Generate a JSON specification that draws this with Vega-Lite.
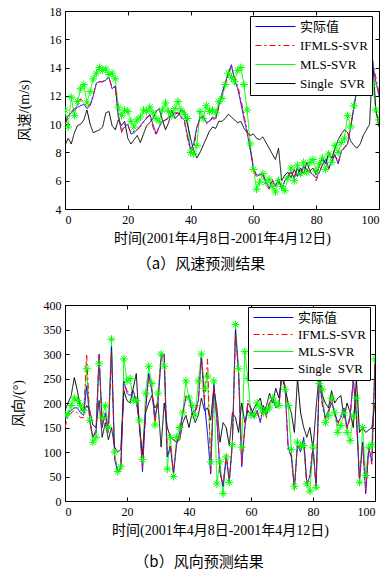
{
  "$schema": "https://vega.github.io/schema/vega-lite/v6.json",
  "padding": {"left": 10, "top": 4, "right": 0, "bottom": 0},
  "background": "white",
  "columns": 1,
  "align": "none",
  "spacing": 25,
  "datasets": {
    "spd": [
      {"x":0,"a":10.0,"f":10.0,"m":11.0,"s":8.5},{"x":1,"a":10.6,"f":10.5,"m":9.8,"s":9.0},{"x":2,"a":10.8,"f":10.9,"m":11.9,"s":8.6},{"x":3,"a":11.0,"f":11.1,"m":10.6,"s":9.4},{"x":4,"a":11.2,"f":11.3,"m":11.6,"s":9.9},
      {"x":5,"a":11.3,"f":11.8,"m":12.5,"s":10.0},{"x":6,"a":11.4,"f":11.5,"m":12.8,"s":10.3},{"x":7,"a":11.1,"f":11.2,"m":11.5,"s":11.0},{"x":8,"a":11.3,"f":11.4,"m":12.3,"s":10.0},{"x":9,"a":12.0,"f":12.1,"m":13.2,"s":9.4},
      {"x":10,"a":12.9,"f":12.9,"m":13.6,"s":9.5},{"x":11,"a":13.0,"f":13.0,"m":14.0,"s":9.6},{"x":12,"a":13.0,"f":13.0,"m":13.8,"s":9.8},{"x":13,"a":13.1,"f":13.2,"m":13.9,"s":10.8},{"x":14,"a":13.3,"f":13.3,"m":13.5,"s":10.9},
      {"x":15,"a":12.5,"f":12.6,"m":13.6,"s":9.9},{"x":16,"a":12.7,"f":12.6,"m":13.2,"s":9.6},{"x":17,"a":10.5,"f":10.8,"m":11.2,"s":10.3},{"x":18,"a":9.5,"f":9.4,"m":10.6,"s":9.9},{"x":19,"a":9.8,"f":10.0,"m":11.0,"s":10.2},
      {"x":20,"a":10.0,"f":9.9,"m":10.9,"s":9.0},{"x":21,"a":9.3,"f":9.4,"m":10.2,"s":8.6},{"x":22,"a":9.4,"f":9.5,"m":9.8,"s":8.9},{"x":23,"a":9.6,"f":9.6,"m":10.3,"s":9.2},{"x":24,"a":9.9,"f":9.8,"m":10.5,"s":8.7},
      {"x":25,"a":10.2,"f":10.1,"m":11.0,"s":9.3},{"x":26,"a":10.4,"f":10.5,"m":10.9,"s":9.9},{"x":27,"a":10.7,"f":10.6,"m":11.2,"s":10.1},{"x":28,"a":10.0,"f":9.8,"m":10.8,"s":10.4},{"x":29,"a":9.3,"f":9.2,"m":10.4,"s":10.9},
      {"x":30,"a":9.8,"f":9.9,"m":10.2,"s":11.1},{"x":31,"a":10.2,"f":10.1,"m":11.0,"s":10.3},{"x":32,"a":10.3,"f":10.3,"m":11.5,"s":9.6},{"x":33,"a":10.5,"f":10.4,"m":10.9,"s":10.1},{"x":34,"a":10.6,"f":10.6,"m":10.6,"s":11.0},
      {"x":35,"a":10.8,"f":10.7,"m":11.1,"s":10.4},{"x":36,"a":10.8,"f":10.8,"m":11.6,"s":10.6},{"x":37,"a":10.5,"f":10.4,"m":11.0,"s":11.0},{"x":38,"a":10.3,"f":10.2,"m":10.7,"s":10.9},{"x":39,"a":9.2,"f":9.0,"m":10.4,"s":10.0},
      {"x":40,"a":8.2,"f":8.1,"m":8.0,"s":9.0},{"x":41,"a":8.6,"f":8.3,"m":7.9,"s":8.1},{"x":42,"a":9.8,"f":9.6,"m":8.5,"s":7.6},{"x":43,"a":10.4,"f":10.5,"m":10.9,"s":8.0},{"x":44,"a":10.6,"f":10.6,"m":10.4,"s":8.5},
      {"x":45,"a":10.1,"f":10.0,"m":11.3,"s":9.0},{"x":46,"a":10.2,"f":10.2,"m":10.9,"s":9.5},{"x":47,"a":10.5,"f":10.4,"m":11.0,"s":9.8},{"x":48,"a":10.4,"f":10.3,"m":10.8,"s":9.7},{"x":49,"a":11.3,"f":11.2,"m":11.6,"s":10.2},
      {"x":50,"a":12.2,"f":12.0,"m":11.8,"s":10.2},{"x":51,"a":12.9,"f":12.8,"m":12.8,"s":10.4},{"x":52,"a":13.6,"f":13.6,"m":13.6,"s":10.7},{"x":53,"a":14.2,"f":14.0,"m":13.3,"s":10.5},{"x":54,"a":13.1,"f":13.3,"m":13.0,"s":10.3},
      {"x":55,"a":12.5,"f":12.7,"m":13.8,"s":10.1},{"x":56,"a":11.5,"f":11.8,"m":14.0,"s":10.2},{"x":57,"a":10.4,"f":10.6,"m":12.8,"s":9.7},{"x":58,"a":9.4,"f":9.6,"m":11.0,"s":9.4},{"x":59,"a":8.2,"f":8.3,"m":8.6,"s":9.2},
      {"x":60,"a":6.9,"f":7.0,"m":6.8,"s":9.3},{"x":61,"a":6.4,"f":6.2,"m":5.4,"s":9.0},{"x":62,"a":6.4,"f":6.5,"m":5.9,"s":8.9},{"x":63,"a":6.5,"f":6.4,"m":6.5,"s":9.1},{"x":64,"a":5.9,"f":5.7,"m":5.9,"s":8.7},
      {"x":65,"a":5.5,"f":5.4,"m":6.1,"s":8.3},{"x":66,"a":6.0,"f":6.1,"m":5.6,"s":7.9},{"x":67,"a":5.6,"f":5.6,"m":5.2,"s":7.5},{"x":68,"a":6.1,"f":6.2,"m":6.0,"s":8.3},{"x":69,"a":5.4,"f":5.4,"m":5.6,"s":6.0},
      {"x":70,"a":6.0,"f":6.0,"m":5.3,"s":6.4},{"x":71,"a":6.3,"f":6.2,"m":6.2,"s":6.6},{"x":72,"a":6.6,"f":6.7,"m":6.9,"s":6.2},{"x":73,"a":6.2,"f":6.3,"m":6.0,"s":6.8},{"x":74,"a":6.9,"f":6.8,"m":7.1,"s":6.3},
      {"x":75,"a":6.3,"f":6.4,"m":6.5,"s":6.9},{"x":76,"a":7.0,"f":7.0,"m":7.3,"s":6.5},{"x":77,"a":6.8,"f":6.7,"m":6.6,"s":7.3},{"x":78,"a":6.6,"f":6.7,"m":7.3,"s":6.7},{"x":79,"a":6.4,"f":6.5,"m":7.5,"s":6.9},
      {"x":80,"a":6.2,"f":6.0,"m":6.7,"s":6.4},{"x":81,"a":6.6,"f":6.6,"m":7.2,"s":7.0},{"x":82,"a":7.1,"f":7.2,"m":7.6,"s":7.6},{"x":83,"a":7.5,"f":7.3,"m":6.8,"s":7.2},{"x":84,"a":6.9,"f":6.8,"m":7.9,"s":8.0},
      {"x":85,"a":7.4,"f":7.4,"m":7.3,"s":7.6},{"x":86,"a":7.8,"f":7.9,"m":8.5,"s":8.3},{"x":87,"a":7.2,"f":7.3,"m":8.0,"s":8.9},{"x":88,"a":8.1,"f":8.0,"m":8.7,"s":9.3},{"x":89,"a":8.3,"f":8.4,"m":9.0,"s":9.6},
      {"x":90,"a":8.6,"f":8.6,"m":10.6,"s":9.4},{"x":91,"a":9.8,"f":9.9,"m":9.8,"s":8.8},{"x":92,"a":11.2,"f":11.1,"m":11.3,"s":8.5},{"x":93,"a":12.5,"f":12.4,"m":12.5,"s":8.3},{"x":94,"a":13.5,"f":13.6,"m":13.3,"s":8.6},
      {"x":95,"a":14.0,"f":14.1,"m":14.0,"s":9.2},{"x":96,"a":14.3,"f":14.3,"m":14.3,"s":9.6},{"x":97,"a":13.9,"f":14.0,"m":13.0,"s":10.0},{"x":98,"a":14.2,"f":14.3,"m":12.8,"s":14.5},{"x":99,"a":13.0,"f":13.3,"m":11.0,"s":11.0},
      {"x":100,"a":12.0,"f":12.2,"m":10.3,"s":9.8}
    ],
    "dir": [
      {"x":0,"A":165,"F":150,"M":175,"S":185},{"x":1,"A":180,"F":175,"M":178,"S":200},{"x":2,"A":185,"F":180,"M":195,"S":215},{"x":3,"A":190,"F":185,"M":210,"S":252},{"x":4,"A":190,"F":180,"M":205,"S":225},
      {"x":5,"A":180,"F":170,"M":195,"S":190},{"x":6,"A":175,"F":170,"M":185,"S":180},{"x":7,"A":235,"F":300,"M":270,"S":195},{"x":8,"A":165,"F":160,"M":165,"S":185},{"x":9,"A":130,"F":130,"M":120,"S":155},
      {"x":10,"A":140,"F":145,"M":130,"S":150},{"x":11,"A":300,"F":300,"M":280,"S":205},{"x":12,"A":150,"F":155,"M":170,"S":130},{"x":13,"A":180,"F":175,"M":195,"S":160},{"x":14,"A":140,"F":140,"M":150,"S":125},
      {"x":15,"A":315,"F":305,"M":330,"S":150},{"x":16,"A":85,"F":90,"M":100,"S":110},{"x":17,"A":60,"F":60,"M":60,"S":100},{"x":18,"A":65,"F":70,"M":70,"S":105},{"x":19,"A":245,"F":240,"M":290,"S":225},
      {"x":20,"A":220,"F":225,"M":245,"S":205},{"x":21,"A":215,"F":220,"M":250,"S":200},{"x":22,"A":225,"F":220,"M":205,"S":230},{"x":23,"A":205,"F":200,"M":205,"S":260},{"x":24,"A":160,"F":160,"M":165,"S":150},
      {"x":25,"A":60,"F":70,"M":85,"S":95},{"x":26,"A":185,"F":190,"M":220,"S":180},{"x":27,"A":260,"F":255,"M":275,"S":200},{"x":28,"A":225,"F":230,"M":240,"S":215},{"x":29,"A":170,"F":160,"M":155,"S":190},
      {"x":30,"A":200,"F":205,"M":220,"S":200},{"x":31,"A":290,"F":300,"M":300,"S":110},{"x":32,"A":300,"F":295,"M":275,"S":200},{"x":33,"A":90,"F":95,"M":65,"S":150},{"x":34,"A":110,"F":115,"M":130,"S":130},
      {"x":35,"A":55,"F":60,"M":50,"S":125},{"x":36,"A":115,"F":120,"M":130,"S":120},{"x":37,"A":140,"F":135,"M":150,"S":125},{"x":38,"A":180,"F":175,"M":180,"S":160},{"x":39,"A":210,"F":215,"M":245,"S":175},
      {"x":40,"A":215,"F":210,"M":210,"S":150},{"x":41,"A":180,"F":185,"M":195,"S":180},{"x":42,"A":185,"F":180,"M":175,"S":160},{"x":43,"A":205,"F":200,"M":245,"S":175},{"x":44,"A":295,"F":300,"M":300,"S":210},
      {"x":45,"A":200,"F":205,"M":230,"S":185},{"x":46,"A":135,"F":290,"M":255,"S":190},{"x":47,"A":55,"F":60,"M":80,"S":165},{"x":48,"A":240,"F":235,"M":245,"S":230},{"x":49,"A":165,"F":170,"M":35,"S":190},
      {"x":50,"A":60,"F":55,"M":80,"S":120},{"x":51,"A":30,"F":35,"M":15,"S":160},{"x":52,"A":90,"F":95,"M":90,"S":150},{"x":53,"A":40,"F":45,"M":38,"S":113},{"x":54,"A":120,"F":115,"M":115,"S":180},
      {"x":55,"A":350,"F":340,"M":360,"S":170},{"x":56,"A":260,"F":265,"M":270,"S":140},{"x":57,"A":70,"F":75,"M":110,"S":200},{"x":58,"A":150,"F":145,"M":305,"S":160},{"x":59,"A":200,"F":205,"M":250,"S":185},
      {"x":60,"A":190,"F":185,"M":175,"S":175},{"x":61,"A":170,"F":175,"M":175,"S":190},{"x":62,"A":185,"F":180,"M":200,"S":200},{"x":63,"A":160,"F":165,"M":190,"S":210},{"x":64,"A":195,"F":190,"M":180,"S":180},
      {"x":65,"A":175,"F":170,"M":185,"S":195},{"x":66,"A":200,"F":205,"M":190,"S":220},{"x":67,"A":210,"F":205,"M":210,"S":200},{"x":68,"A":190,"F":195,"M":200,"S":230},{"x":69,"A":195,"F":190,"M":195,"S":210},
      {"x":70,"A":270,"F":265,"M":255,"S":255},{"x":71,"A":230,"F":235,"M":228,"S":230},{"x":72,"A":110,"F":100,"M":195,"S":200},{"x":73,"A":90,"F":95,"M":105,"S":180},{"x":74,"A":25,"F":20,"M":30,"S":140},
      {"x":75,"A":115,"F":120,"M":120,"S":250},{"x":76,"A":100,"F":105,"M":113,"S":180},{"x":77,"A":130,"F":125,"M":113,"S":150},{"x":78,"A":35,"F":30,"M":35,"S":130},{"x":79,"A":50,"F":55,"M":20,"S":150},
      {"x":80,"A":110,"F":115,"M":110,"S":106},{"x":81,"A":30,"F":25,"M":28,"S":190},{"x":82,"A":250,"F":255,"M":240,"S":260},{"x":83,"A":200,"F":195,"M":228,"S":215},{"x":84,"A":170,"F":165,"M":160,"S":200},
      {"x":85,"A":185,"F":180,"M":174,"S":190},{"x":86,"A":200,"F":210,"M":210,"S":225},{"x":87,"A":180,"F":175,"M":181,"S":200},{"x":88,"A":160,"F":155,"M":140,"S":210},{"x":89,"A":170,"F":175,"M":154,"S":215},
      {"x":90,"A":190,"F":185,"M":180,"S":170},{"x":91,"A":150,"F":145,"M":140,"S":200},{"x":92,"A":175,"F":170,"M":123,"S":180},{"x":93,"A":250,"F":250,"M":174,"S":150},{"x":94,"A":170,"F":175,"M":210,"S":250},
      {"x":95,"A":40,"F":45,"M":38,"S":140},{"x":96,"A":120,"F":115,"M":150,"S":150},{"x":97,"A":15,"F":20,"M":52,"S":140},{"x":98,"A":110,"F":105,"M":110,"S":145},{"x":99,"A":80,"F":75,"M":115,"S":150},
      {"x":100,"A":280,"F":285,"M":290,"S":200}
    ]
  },
  "resolve": {"scale": {"color": "independent", "strokeDash": "independent"}, "legend": {"color": "independent", "strokeDash": "independent"}},
  "concat": [
    {
      "width": 314,
      "height": 198,
      "data": {"name": "spd"},
      "title": {"text": "（a）风速预测结果", "dx": -21},
      "resolve": {"axis": {"x": "independent", "y": "independent"}},
      "transform": [{"fold": ["m", "s", "a", "f"], "as": ["ka", "va"]}],
      "layer": [
        {
          "mark": {"type": "line", "strokeWidth": 1, "clip": true},
          "encoding": {
            "x": {"field": "x", "type": "quantitative", "scale": {"domain": [0, 100], "nice": false}, "axis": {"values": [0, 20, 40, 60, 80, 100], "title": "时间(2001年4月8日-2001年4月12日)"}},
            "y": {"field": "va", "type": "quantitative", "scale": {"domain": [4, 18], "nice": false, "zero": false}, "axis": {"values": [4, 6, 8, 10, 12, 14, 16, 18], "title": "风速/(m/s)"}},
            "color": {"field": "ka", "type": "nominal", "scale": {"domain": ["a", "f", "m", "s"], "range": ["#0000ff", "#ff0000", "#00ff00", "#000000"]},
              "legend": {"orient": "none", "legendX": 185, "legendY": 5, "rowPadding": 5,
                "labelExpr": "datum.value === 'a' ? '实际值' : datum.value === 'f' ? 'IFMLS-SVR' : datum.value === 'm' ? 'MLS-SVR' : 'Single\u00a0 SVR'"}},
            "strokeDash": {"field": "ka", "type": "nominal", "scale": {"domain": ["a", "f", "m", "s"], "range": [[1, 0], [6, 3, 2, 3], [1, 0], [1, 0]]},
              "legend": {"orient": "none", "legendX": 185, "legendY": 5, "rowPadding": 5,
                "labelExpr": "datum.value === 'a' ? '实际值' : datum.value === 'f' ? 'IFMLS-SVR' : datum.value === 'm' ? 'MLS-SVR' : 'Single\u00a0 SVR'"}}
          }
        },
        {
          "transform": [{"filter": "datum.ka === 'm'"}],
          "mark": {"type": "point", "shape": "M-1,0H1M0,-1V1M-0.7,-0.7L0.7,0.7M-0.7,0.7L0.7,-0.7", "size": 64, "filled": false, "stroke": "#00ff00", "strokeWidth": 1, "opacity": 1, "clip": true},
          "encoding": {
            "x": {"field": "x", "type": "quantitative", "axis": {"orient": "top", "values": [0, 20, 40, 60, 80, 100], "labels": false, "title": null}},
            "y": {"field": "va", "type": "quantitative", "axis": {"orient": "right", "values": [4, 6, 8, 10, 12, 14, 16, 18], "labels": false, "title": null}}
          }
        }
      ]
    },
    {
      "width": 310,
      "height": 196,
      "data": {"name": "dir"},
      "title": {"text": "（b）风向预测结果", "dx": -21, "offset": 18},
      "resolve": {"axis": {"x": "independent", "y": "independent"}},
      "transform": [{"fold": ["M", "S", "A", "F"], "as": ["kb", "vb"]}],
      "layer": [
        {
          "mark": {"type": "line", "strokeWidth": 1, "clip": true},
          "encoding": {
            "x": {"field": "x", "type": "quantitative", "scale": {"domain": [0, 100], "nice": false}, "axis": {"values": [0, 20, 40, 60, 80, 100], "title": "时间(2001年4月8日-2001年4月12日)"}},
            "y": {"field": "vb", "type": "quantitative", "scale": {"domain": [0, 400], "nice": false}, "axis": {"values": [0, 50, 100, 150, 200, 250, 300, 350, 400], "title": "风向/(°)"}},
            "color": {"field": "kb", "type": "nominal", "scale": {"domain": ["A", "F", "M", "S"], "range": ["#0000ff", "#ff0000", "#00ff00", "#000000"]},
              "legend": {"orient": "none", "legendX": 183, "legendY": 2, "rowPadding": 3,
                "labelExpr": "datum.value === 'A' ? '实际值' : datum.value === 'F' ? 'IFMLS-SVR' : datum.value === 'M' ? 'MLS-SVR' : 'Single\u00a0 SVR'"}},
            "strokeDash": {"field": "kb", "type": "nominal", "scale": {"domain": ["A", "F", "M", "S"], "range": [[1, 0], [6, 3, 2, 3], [1, 0], [1, 0]]},
              "legend": {"orient": "none", "legendX": 183, "legendY": 2, "rowPadding": 3,
                "labelExpr": "datum.value === 'A' ? '实际值' : datum.value === 'F' ? 'IFMLS-SVR' : datum.value === 'M' ? 'MLS-SVR' : 'Single\u00a0 SVR'"}}
          }
        },
        {
          "transform": [{"filter": "datum.kb === 'M'"}],
          "mark": {"type": "point", "shape": "M-1,0H1M0,-1V1M-0.7,-0.7L0.7,0.7M-0.7,0.7L0.7,-0.7", "size": 64, "filled": false, "stroke": "#00ff00", "strokeWidth": 1, "opacity": 1, "clip": true},
          "encoding": {
            "x": {"field": "x", "type": "quantitative", "axis": {"orient": "top", "values": [0, 20, 40, 60, 80, 100], "labels": false, "title": null}},
            "y": {"field": "vb", "type": "quantitative", "axis": {"orient": "right", "values": [0, 50, 100, 150, 200, 250, 300, 350, 400], "labels": false, "title": null}}
          }
        }
      ]
    }
  ],
  "config": {
    "view": {"stroke": "black", "strokeWidth": 1},
    "axis": {"domain": false, "grid": false, "ticks": true, "tickSize": -4, "tickColor": "black", "labelPadding": 8, "labelOverlap": false, "labelFont": "Liberation Serif", "labelFontSize": 12, "labelColor": "black", "titleFont": "Liberation Serif, Noto Sans CJK SC", "titleFontSize": 14, "titleFontWeight": "normal", "titleColor": "black"},
    "axisY": {"titlePadding": 18},
    "axisX": {"titlePadding": 6, "labelPadding": 9},
    "title": {"orient": "bottom", "font": "Noto Sans CJK SC", "fontSize": 15, "fontWeight": "normal", "color": "black", "offset": 12},
    "legend": {
      "title": null,
      "symbolType": "M-1,0H7",
      "symbolSize": 100,
      "symbolStrokeWidth": 1.2,
      "strokeColor": "black",
      "fillColor": "white",
      "padding": 4,
      "labelOffset": 33,
      "labelFont": "Liberation Serif, Noto Sans CJK SC",
      "labelFontSize": 13,
      "labelColor": "black"
    }
  }
}
